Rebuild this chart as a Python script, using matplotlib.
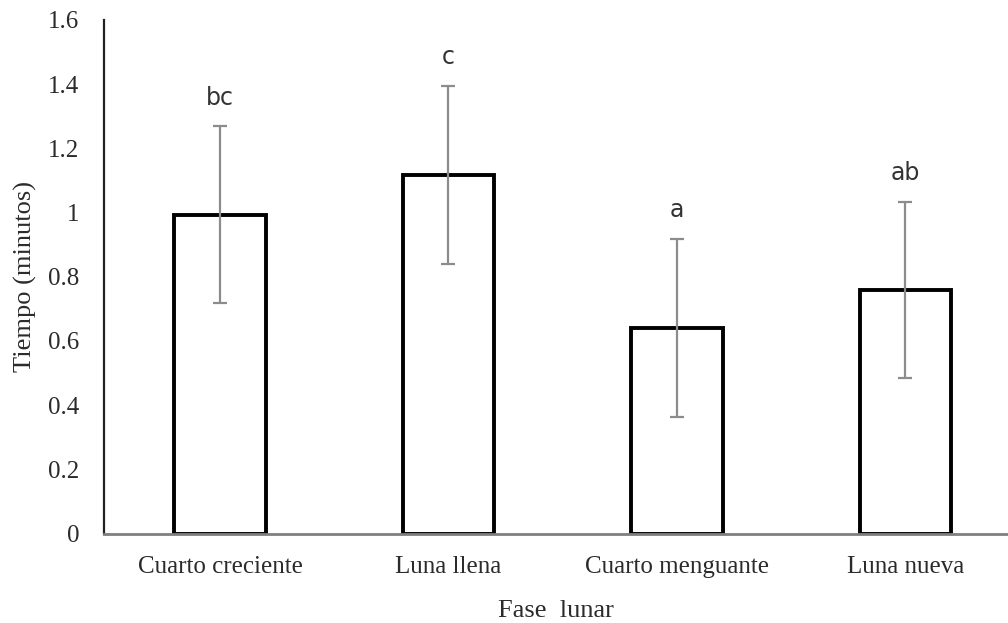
import numpy as np
import matplotlib.pyplot as plt

fases = ['Cuarto creciente', 'Luna llena', 'Cuarto menguante', 'Luna nueva']
tiempo = [0.993, 1.117, 0.641, 0.759]
error = [0.276, 0.277, 0.278, 0.274]
letras = ['bc', 'c', 'a', 'ab']
yticks = [0, 0.2, 0.4, 0.6, 0.8, 1, 1.2, 1.4, 1.6]
ytick_labels = ['0', '0.2', '0.4', '0.6', '0.8', '1', '1.2', '1.4', '1.6']

fig = plt.figure(figsize=(10.08, 6.23), dpi=100)
ax = fig.add_axes([104/1008, (623-533.5)/623, (1008-104)/1008, (533.5-20)/623])

x = np.arange(len(fases))
ax.bar(x, tiempo, width=0.40, color='white', edgecolor='black', linewidth=2.8, zorder=2)
ax.errorbar(x, tiempo, yerr=error, fmt='none', ecolor='#8c8c8c', elinewidth=1.6,
            capsize=5, capthick=1.6, zorder=3)

for i in range(len(fases)):
    ax.annotate(letras[i], (x[i], tiempo[i] + error[i]), xytext=(0, 12),
                textcoords='offset points', ha='center', va='bottom',
                fontsize=17, color='#333333', family='DejaVu Sans')

ax.set_xlim(-0.508, 3.45)
ax.set_ylim(0, 1.6)
ax.set_yticks(yticks)
ax.set_yticklabels(ytick_labels)
ax.set_xticks(x)
ax.set_xticklabels(fases)

for lab in ax.get_xticklabels() + ax.get_yticklabels():
    lab.set_family('Liberation Serif')
    lab.set_fontsize(18)
    lab.set_color('#2b2b2b')

ax.tick_params(axis='both', length=0)
ax.tick_params(axis='y', pad=18)
ax.tick_params(axis='x', pad=16)

ax.spines['top'].set_visible(False)
ax.spines['right'].set_visible(False)
ax.spines['left'].set_linewidth(1.6)
ax.spines['left'].set_color('#222222')
ax.spines['bottom'].set_linewidth(2)
ax.spines['bottom'].set_color('#7f7f7f')

ax.set_ylabel('Tiempo (minutos)', family='Liberation Serif', fontsize=19, color='#2b2b2b', labelpad=8)
ax.set_xlabel('Fase  lunar', family='Liberation Serif', fontsize=19, color='#2b2b2b', labelpad=16)

fig.savefig('out.png', dpi=100)
